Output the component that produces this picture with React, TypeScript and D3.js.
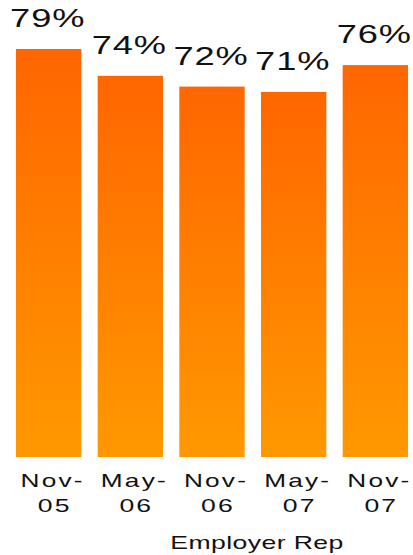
import * as d3 from 'd3'
import {useRef, useEffect} from 'react'

const categories: string[] = ['Nov-05', 'May-06', 'Nov-06', 'May-07', 'Nov-07']
const values: number[] = [79, 74, 72, 71, 76]
const axisTitle = 'Employer Rep'

const svgWidth = 413
const svgHeight = 555

const App: React.FC = () => {
  const svgRef = useRef<SVGSVGElement>(null)

  const drawChart = (): void => {
    const SVG = d3.select(svgRef.current)
    SVG.selectAll('*').remove()

    const xScale = d3.scaleBand<string>()
      .domain(categories)
      .range([16, 408])
      .paddingInner(0.2)
    const yScale = d3.scaleLinear()
      .domain([3, 79])
      .range([457, 49])

    const grad = SVG.append('defs')
      .append('linearGradient')
      .attr('id', 'barGrad')
      .attr('x1', 0).attr('y1', 0)
      .attr('x2', 0).attr('y2', 1)
    grad.append('stop').attr('offset', '0%').attr('stop-color', '#ff6600')
    grad.append('stop').attr('offset', '100%').attr('stop-color', '#ff9900')

    SVG.selectAll('rect.bar')
      .data(values)
      .enter()
      .append('rect')
      .attr('class', 'bar')
      .attr('x', (d, i) => xScale(categories[i])!)
      .attr('y', d => yScale(d))
      .attr('width', xScale.bandwidth())
      .attr('height', d => yScale.range()[0] - yScale(d))
      .attr('fill', 'url(#barGrad)')

    const font = '"Liberation Sans", Arial, sans-serif'

    // value labels
    SVG.selectAll('g.val')
      .data(values)
      .enter()
      .append('g')
      .attr('class', 'val')
      .attr('transform', (d, i) =>
        `translate(${xScale(categories[i])! + xScale.bandwidth() / 2 - 1},${yScale(d) - 22}) scale(1.45,1)`)
      .append('text')
      .attr('text-anchor', 'middle')
      .attr('font-family', font)
      .attr('font-size', 25)
      .attr('letter-spacing', 0.6)
      .attr('fill', '#111')
      .text(d => `${d}%`)

    // category labels, two lines
    const ticks = SVG.selectAll('g.tick')
      .data(categories)
      .enter()
      .append('g')
      .attr('class', 'tick')
      .attr('font-family', font)
      .attr('font-size', 19)
      .attr('fill', '#111')
      .attr('text-anchor', 'middle')

    ticks.append('g')
      .attr('transform', d => `translate(${xScale(d)! + xScale.bandwidth() / 2 + 4},487) scale(1.38,1)`)
      .append('text')
      .attr('letter-spacing', 1.6)
      .text(d => d.split('-')[0] + '-')
    ticks.append('g')
      .attr('transform', d => `translate(${xScale(d)! + xScale.bandwidth() / 2 + 6},512) scale(1.4,1)`)
      .append('text')
      .attr('letter-spacing', 1.5)
      .text(d => d.split('-')[1])

    SVG.append('g')
      .attr('transform', 'translate(257,549) scale(1.4,1)')
      .append('text')
      .attr('text-anchor', 'middle')
      .attr('font-family', font)
      .attr('font-size', 19)
      .attr('letter-spacing', 0.3)
      .attr('fill', '#111')
      .text(axisTitle)
  }

  useEffect((): void => drawChart(), [])

  return (
    <svg ref={svgRef} width={svgWidth} height={svgHeight}
      style={{position: 'absolute', left: 0, top: 0, background: '#fff'}} />
  )
}

export default App
